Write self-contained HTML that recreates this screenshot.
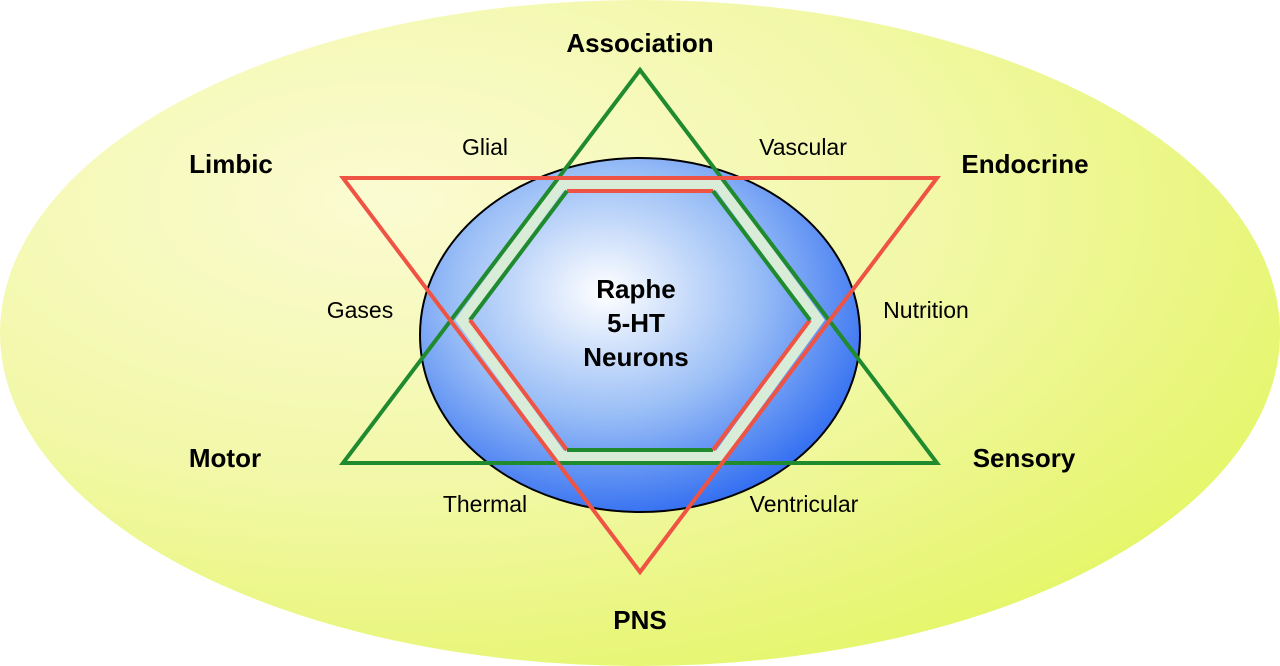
<!DOCTYPE html>
<html><head><style>html,body{margin:0;padding:0;background:#fff}svg{display:block}</style></head>
<body>
<svg width="1280" height="666" viewBox="0 0 1280 666" xmlns="http://www.w3.org/2000/svg">
<defs>
<radialGradient id="y" cx="0.3" cy="0.3" r="0.85">
<stop offset="0" stop-color="#fbfbd2"/><stop offset="0.5" stop-color="#f2f8a8"/><stop offset="1" stop-color="#e3f560"/>
</radialGradient>
<radialGradient id="b" cx="0.42" cy="0.38" r="0.7">
<stop offset="0" stop-color="#ffffff"/><stop offset="0.5" stop-color="#98bdf6"/><stop offset="1" stop-color="#1f5ff0"/>
</radialGradient>
</defs>
<ellipse cx="640" cy="333" rx="640" ry="333" fill="url(#y)"/>
<ellipse cx="640" cy="335" rx="220" ry="177" fill="url(#b)" stroke="#000" stroke-width="2"/>
<polygon points="561,185 719,185 818,320 719,456 561,456 462,320" fill="none" stroke="#d8ecd8" stroke-width="11"/>
<g stroke-width="4" fill="none">
<line x1="567" y1="191" x2="713" y2="191" stroke="#ef5343"/>
<line x1="567" y1="191" x2="470" y2="320" stroke="#1f8a2e"/>
<line x1="470" y1="320" x2="567" y2="450" stroke="#ef5343"/>
<line x1="567" y1="450" x2="713" y2="450" stroke="#1f8a2e"/>
<line x1="713" y1="450" x2="810" y2="320" stroke="#ef5343"/>
<line x1="810" y1="320" x2="713" y2="191" stroke="#1f8a2e"/>
<polygon points="640,70 937,463 343,463" stroke="#1f8a2e" stroke-linejoin="miter"/>
<polygon points="343,178 937,178 640,572" stroke="#ef5343" stroke-linejoin="miter"/>
</g>
<g font-family="Liberation Sans, sans-serif" text-anchor="middle" fill="#000">
<g font-weight="bold" font-size="26">
<text x="640" y="52">Association</text>
<text x="231" y="173">Limbic</text>
<text x="1025" y="173">Endocrine</text>
<text x="225" y="467">Motor</text>
<text x="1024" y="467">Sensory</text>
<text x="640" y="629">PNS</text>
<text x="636" y="298">Raphe</text>
<text x="636" y="332">5-HT</text>
<text x="636" y="366">Neurons</text>
</g>
<g font-size="23">
<text x="485" y="155">Glial</text>
<text x="803" y="155">Vascular</text>
<text x="360" y="318">Gases</text>
<text x="926" y="318">Nutrition</text>
<text x="485" y="512">Thermal</text>
<text x="804" y="512">Ventricular</text>
</g>
</g>
</svg>
</body></html>
